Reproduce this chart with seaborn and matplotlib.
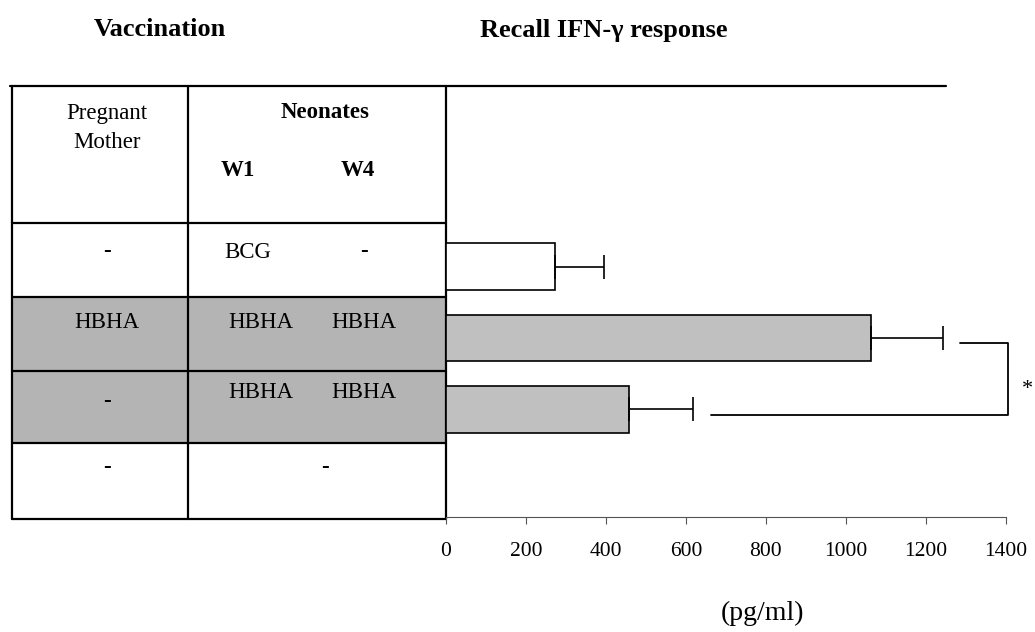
"""
Recall IFN-gamma response after HBHA / BCG vaccination.
"""
import pandas as pd
import seaborn as sns
import matplotlib.pyplot as plt

# bar data (pg/ml)
groups = ["BCG", "HBHA mother + neonate", "HBHA neonate", "none"]
ifn_mean = [272, 1062, 458]
ifn_err = [124, 181, 160]
bar_colors = ["#ffffff", "#c0c0c0", "#c0c0c0"]
x_ticks = [0, 200, 400, 600, 800, 1000, 1200, 1400]

# vaccination table
mother_col = ["-", "HBHA", "-", "-"]
w1_col = ["BCG", "HBHA", "HBHA", ""]
w4_col = ["-", "HBHA", "HBHA", ""]
shaded_rows = [False, True, True, False]

W, H = 1035, 632
sns.set_style("white")
plt.rcParams['font.family'] = ['Liberation Serif', 'DejaVu Serif']
plt.rcParams['text.color'] = 'black'

fig = plt.figure(figsize=(W / 100, H / 100), dpi=100)

# overlay in pixel coords for the table
tab = fig.add_axes([0, 0, 1, 1])
tab.set_xlim(0, W)
tab.set_ylim(H, 0)
tab.axis('off')
tab.patch.set_alpha(0)

row_edges = [223, 297, 371, 443, 519]
x_left, x_mid, x_right = 12, 188, 446
for i, shaded in enumerate(shaded_rows):
    if shaded:
        tab.fill_between([x_left, x_right], row_edges[i], row_edges[i + 1],
                         color="#b4b4b4", lw=0)
lw = 1.6
tab.plot([10, 946], [86, 86], color="black", lw=lw)
for x in (x_left, x_mid, x_right):
    tab.plot([x, x], [86, 519], color="black", lw=lw)
for y in row_edges:
    tab.plot([x_left, x_right], [y, y], color="black", lw=lw)


def cell(x, y, s, **kw):
    # dashes in the original are short heavy strokes
    if s == "-":
        kw = dict(kw, weight="bold")
    tab.text(x, y, s, ha="center", va="center", fontsize=16.5, **kw)


cell(107, 113, "Pregnant")
cell(107, 142, "Mother")
cell(325, 113, "Neonates", weight="bold")
cell(238, 170, "W1", weight="bold")
cell(358, 170, "W4", weight="bold")

mother_y = [252, 322, 401, 467]
neo_y = [252, 322, 393, 467]
for i in range(4):
    cell(107, mother_y[i], mother_col[i])
    if w1_col[i]:
        cell(248 if i == 0 else 261, neo_y[i], w1_col[i])
        cell(364, neo_y[i], w4_col[i])
    else:
        cell(325, neo_y[i], "-")

tab.text(160, 30, "Vaccination", ha="center", va="center", fontsize=19, weight="bold")
tab.text(604, 30, "Recall IFN-\u03b3 response", ha="center", va="center",
         fontsize=19, weight="bold")
tab.text(763, 613, "(pg/ml)", ha="center", va="center", fontsize=20)

# bar chart axes
ax = fig.add_axes([446 / W, (H - 517) / H, 559.7 / W, (517 - 86) / H])
ax.patch.set_alpha(0)
df = pd.DataFrame({"group": groups[:3], "ifn": ifn_mean})
sns.barplot(data=df, x="ifn", y="group", hue="group", order=groups,
            palette=dict(zip(groups[:3], bar_colors)), orient="h",
            errorbar=None, width=0.65, edgecolor="black", linewidth=1.2,
            legend=False, ax=ax)
ax.errorbar(ifn_mean, range(3), xerr=[[0] * 3, ifn_err], fmt="none",
            ecolor="black", elinewidth=1.2, capsize=8.5, capthick=1.2)

# significance bracket between HBHA groups
ax.plot([1286, 1405, 1405, 662], [1.064, 1.064, 2.081, 2.081],
        color="black", lw=1.3, clip_on=False)
fig.text(1033 / W, 1 - 390 / H, "*", fontsize=16, ha="right", va="center")

ax.set_xlim(0, 1400)
ax.set_ylim(3.506, -2.531)
ax.set_xticks(x_ticks)
ax.set_xticklabels([str(t) for t in x_ticks], fontsize=15.5)
ax.set_yticks([])
ax.set_xlabel("")
ax.set_ylabel("")
ax.tick_params(axis="x", direction="out", length=5, width=0.8,
               color="#555555", labelcolor="black", pad=13, bottom=True)
for s in ("top", "right", "left"):
    ax.spines[s].set_visible(False)
ax.spines["bottom"].set_color("#555555")
ax.spines["bottom"].set_linewidth(0.8)

fig.savefig("out.png", dpi=100)
